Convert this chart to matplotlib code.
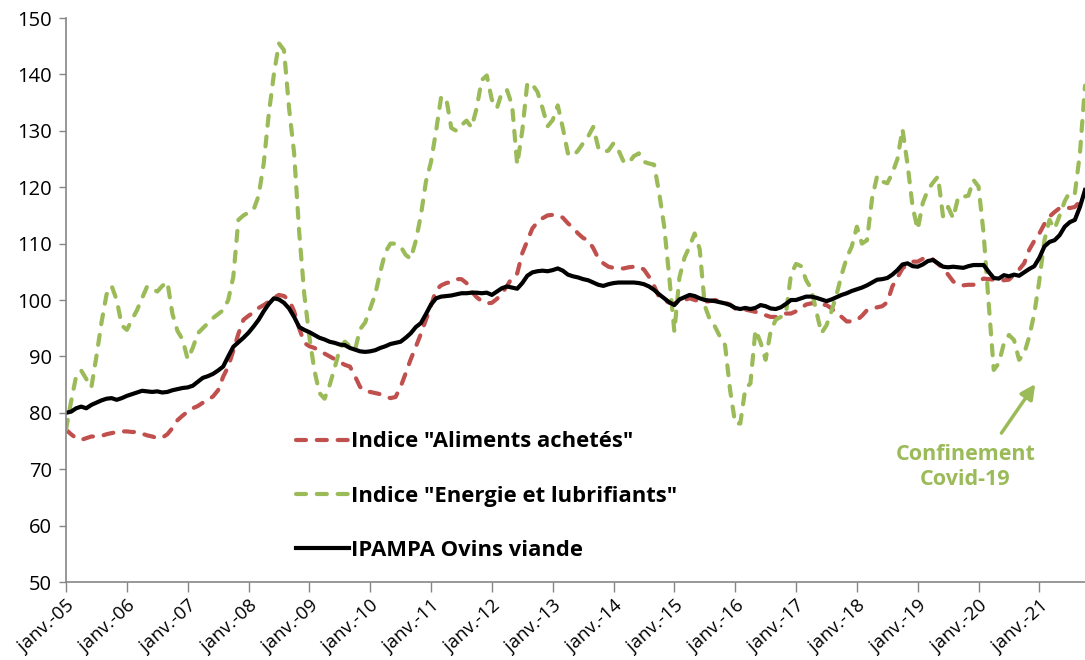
import matplotlib
matplotlib.use("Agg")
import matplotlib.pyplot as plt

# monthly series, janv.-05 .. oct.-21
aliments = [
    77.0, 76.2, 75.5, 75.2, 75.5, 75.8, 75.8, 75.9, 76.2, 76.4, 76.6, 76.7,
    76.7, 76.6, 76.6, 76.3, 76.0, 75.8, 75.5, 75.6, 76.2, 77.3, 78.7, 79.5,
    80.2, 80.8, 81.2, 81.8, 82.3, 82.9, 84.0, 86.4, 88.2, 91.0, 94.0, 96.5,
    97.2, 97.8, 98.6, 99.1, 99.7, 100.4, 100.9, 100.7, 100.0, 98.0, 95.0, 92.4,
    91.8, 91.5, 91.0, 90.5, 90.0, 89.5, 89.0, 88.5, 88.2, 86.5, 84.6, 83.8,
    83.7, 83.5, 83.3, 82.9, 82.6, 82.8, 84.6, 87.0, 89.5, 91.7, 94.0, 96.5,
    99.0, 101.8, 102.6, 103.0, 103.2, 103.7, 103.7, 103.0, 101.5, 100.5, 99.8, 99.4,
    99.5, 100.2, 101.2, 102.5, 104.0, 104.7, 108.3, 110.5, 112.7, 113.8, 114.5, 115.0,
    115.1, 115.0, 114.6, 113.6, 112.8, 111.8, 111.0, 110.6, 109.2, 107.4, 106.5, 105.9,
    105.7, 105.6, 105.6, 105.8, 105.9, 105.9, 105.4, 104.1, 102.5, 100.5, 100.0, 99.5,
    99.4, 99.6, 100.0, 100.3, 100.0, 99.8, 99.7, 99.8, 100.0, 99.8, 99.5, 99.2,
    98.5, 98.2, 98.3, 98.1, 97.9, 97.6, 97.3, 97.0, 97.0, 97.2, 97.6, 97.6,
    98.0, 98.6, 99.2, 99.4, 99.5, 99.2, 99.1, 98.5, 97.6, 97.0, 96.2, 96.2,
    96.4, 97.2, 98.2, 98.5, 98.7, 98.9, 99.6, 102.4, 104.0, 105.6, 106.3, 106.8,
    106.8, 107.3, 107.6, 107.2, 106.4, 105.6, 104.5, 103.3, 102.7, 102.6, 102.7, 102.7,
    103.3, 103.8, 103.7, 103.6, 103.6, 103.5, 103.6, 104.5, 105.4, 106.5, 108.9, 110.5,
    111.8, 113.5, 114.8, 115.6, 116.3, 116.5, 116.3, 116.5, 117.5, 118.5,
]

energie = [
    77.0, 82.0, 86.5, 87.5, 86.0, 84.5, 90.0, 96.0, 101.0, 102.5, 100.0, 95.5,
    94.7, 96.5, 98.2, 100.3, 102.4, 102.0, 101.5, 102.5, 103.2, 97.5, 94.5, 93.0,
    89.5, 91.5, 94.1, 95.0, 95.9, 96.8, 97.5, 98.2, 100.0, 104.1, 114.2, 115.0,
    115.5, 116.0, 118.5, 124.2, 133.0, 140.0, 145.5, 144.3, 134.0, 126.0, 112.0, 101.0,
    93.5, 87.5, 83.5, 82.5, 84.9, 88.0, 91.3, 92.6, 91.8, 91.1, 94.8, 96.0,
    98.5, 101.0, 105.0, 108.5, 110.0, 110.0, 109.5, 108.0, 107.3, 110.5, 115.0, 121.0,
    124.5, 130.0, 136.0, 135.8, 130.5, 130.0, 131.0, 131.8, 130.6, 134.0, 139.0, 139.8,
    135.5, 134.0, 136.9, 137.2, 134.5, 124.0, 130.0, 138.5, 138.2, 136.9, 134.0, 130.8,
    131.9, 134.5, 130.5, 126.0, 125.5, 126.5, 127.8, 129.0, 130.7, 127.0, 126.2, 126.5,
    127.8, 126.5, 124.5, 124.3, 125.5, 126.0, 124.5, 124.2, 124.0, 119.0, 113.0, 104.0,
    94.4, 104.0, 107.5, 109.5, 111.8, 109.0, 99.0, 96.5, 95.3, 93.5, 92.0, 84.0,
    78.1, 78.1, 84.3, 85.2, 94.7, 92.5, 89.4, 94.5, 96.5, 97.0, 97.6, 104.5,
    106.4, 106.0, 103.5, 102.0, 98.0, 94.1, 95.5, 98.0, 101.0, 104.5, 107.5, 109.5,
    113.0, 110.0, 110.6, 118.0, 122.0, 121.0, 120.7, 122.5, 125.0, 130.3, 124.0, 116.5,
    112.5, 117.2, 119.5, 120.8, 121.9, 114.8, 116.5, 114.5, 118.3, 118.3, 118.5, 121.3,
    120.1, 111.8, 99.4, 87.6, 88.8, 92.3, 93.8, 92.9, 89.4, 90.5, 93.5, 97.6,
    103.5, 110.6, 114.2, 112.6, 115.0, 117.5, 119.2, 118.9, 126.0, 138.0,
]

ipampa = [
    80.0, 80.2, 80.8, 81.1, 80.8, 81.4, 81.8, 82.2, 82.5, 82.6, 82.3, 82.6,
    83.0, 83.3, 83.6, 83.9, 83.8, 83.7, 83.8, 83.6, 83.7, 84.0, 84.2, 84.4,
    84.5, 84.8, 85.5, 86.2, 86.5, 86.9, 87.5, 88.2, 90.0, 91.7, 92.5, 93.3,
    94.2, 95.3, 96.5, 98.0, 99.3, 100.3, 100.1, 99.5, 98.5, 97.0, 95.2, 94.7,
    94.3, 93.8, 93.3, 93.0, 92.6, 92.4, 92.1, 92.0, 91.5, 91.2, 90.9, 90.8,
    90.9, 91.1, 91.5, 91.8, 92.2, 92.4, 92.6, 93.3, 94.1, 95.2, 95.9, 97.5,
    99.2, 100.3, 100.6, 100.7, 100.8, 101.0, 101.2, 101.2, 101.3, 101.3, 101.2, 101.3,
    100.9, 101.5, 102.1, 102.4, 102.2, 102.0, 103.0, 104.3, 104.9, 105.1, 105.2, 105.1,
    105.3, 105.6, 105.2, 104.5, 104.2, 104.0, 103.7, 103.5, 103.1, 102.7, 102.5, 102.8,
    103.0, 103.1, 103.1, 103.1, 103.1, 103.0, 102.8, 102.4, 101.8, 101.0, 100.3, 99.6,
    99.1, 100.1, 100.5, 100.9, 100.7, 100.3, 100.0, 99.9, 99.8, 99.6, 99.4, 99.1,
    98.6, 98.4, 98.6, 98.4, 98.6, 99.1, 98.9, 98.5, 98.4, 98.7, 99.3, 100.0,
    100.0, 100.3, 100.6, 100.6, 100.4, 100.1, 99.8, 100.1, 100.5, 100.9, 101.2, 101.6,
    101.9, 102.2, 102.6, 103.1, 103.6, 103.7, 103.9, 104.5, 105.3, 106.3, 106.5, 106.0,
    105.9, 106.3, 106.9, 107.1, 106.5, 105.9, 105.8, 105.9, 105.8, 105.7, 106.0, 106.2,
    106.2, 106.2, 105.0, 103.9, 103.8, 104.4, 104.2, 104.5, 104.3, 104.9, 105.5, 106.0,
    107.5, 109.5, 110.3, 110.6, 111.5, 113.0, 113.8, 114.2, 116.5, 119.5,
]

years = ["05", "06", "07", "08", "09", "10", "11", "12", "13", "14",
         "15", "16", "17", "18", "19", "20", "21"]
tick_labels = ["janv.-" + y for y in years]

RED = "#C0504D"
GREEN = "#9BBB59"
FONT = "Open Sans"

plt.rcParams["font.family"] = [FONT, "DejaVu Sans"]

fig = plt.figure(figsize=(10.85, 6.6), dpi=100)
ax = fig.add_axes([66 / 1085, 78 / 660, 1019 / 1085, 564 / 660])

months = list(range(len(ipampa)))
dash = (0, (2.4, 2.6))
ax.plot(months, aliments, color=RED, lw=3, linestyle=dash, dash_capstyle="round",
        label='Indice "Aliments achetés"')
ax.plot(months, energie, color=GREEN, lw=3, linestyle=dash, dash_capstyle="round",
        label='Indice "Energie et lubrifiants"')
ax.plot(months, ipampa, color="black", lw=3, solid_joinstyle="round",
        label="IPAMPA Ovins viande")

ax.set_xlim(0, len(ipampa) - 1)
ax.set_ylim(50, 150)
ax.set_yticks(range(50, 151, 10))
ax.set_xticks(range(0, len(ipampa), 12))
ax.set_xticklabels(tick_labels, rotation=42, ha="right", rotation_mode="anchor")
ax.tick_params(axis="x", length=7, width=1, color="#868686", labelsize=13.5, pad=4)
ax.tick_params(axis="y", length=5, width=1, color="#868686", labelsize=14.5, pad=5)

for s in ["top", "right"]:
    ax.spines[s].set_visible(False)
for s in ["left", "bottom"]:
    ax.spines[s].set_color("#868686")
    ax.spines[s].set_linewidth(1.2)

leg = ax.legend(loc="upper left", bbox_to_anchor=(0.226, 0.267), frameon=False,
                prop={"family": FONT, "weight": "bold", "size": 15.8},
                handlelength=2.4, handletextpad=0.1, labelspacing=1.52,
                borderpad=0, borderaxespad=0)

ax.annotate("", xy=(191.5, 85.5), xytext=(184.2, 76.0),
            arrowprops=dict(arrowstyle="-|>", color=GREEN, lw=2.5, mutation_scale=22))
ax.text(177.4, 70.4, "Confinement\nCovid-19", color=GREEN, fontsize=15.5,
        fontweight="bold", ha="center", va="center", linespacing=1.3)

fig.savefig("out.png", dpi=100)
